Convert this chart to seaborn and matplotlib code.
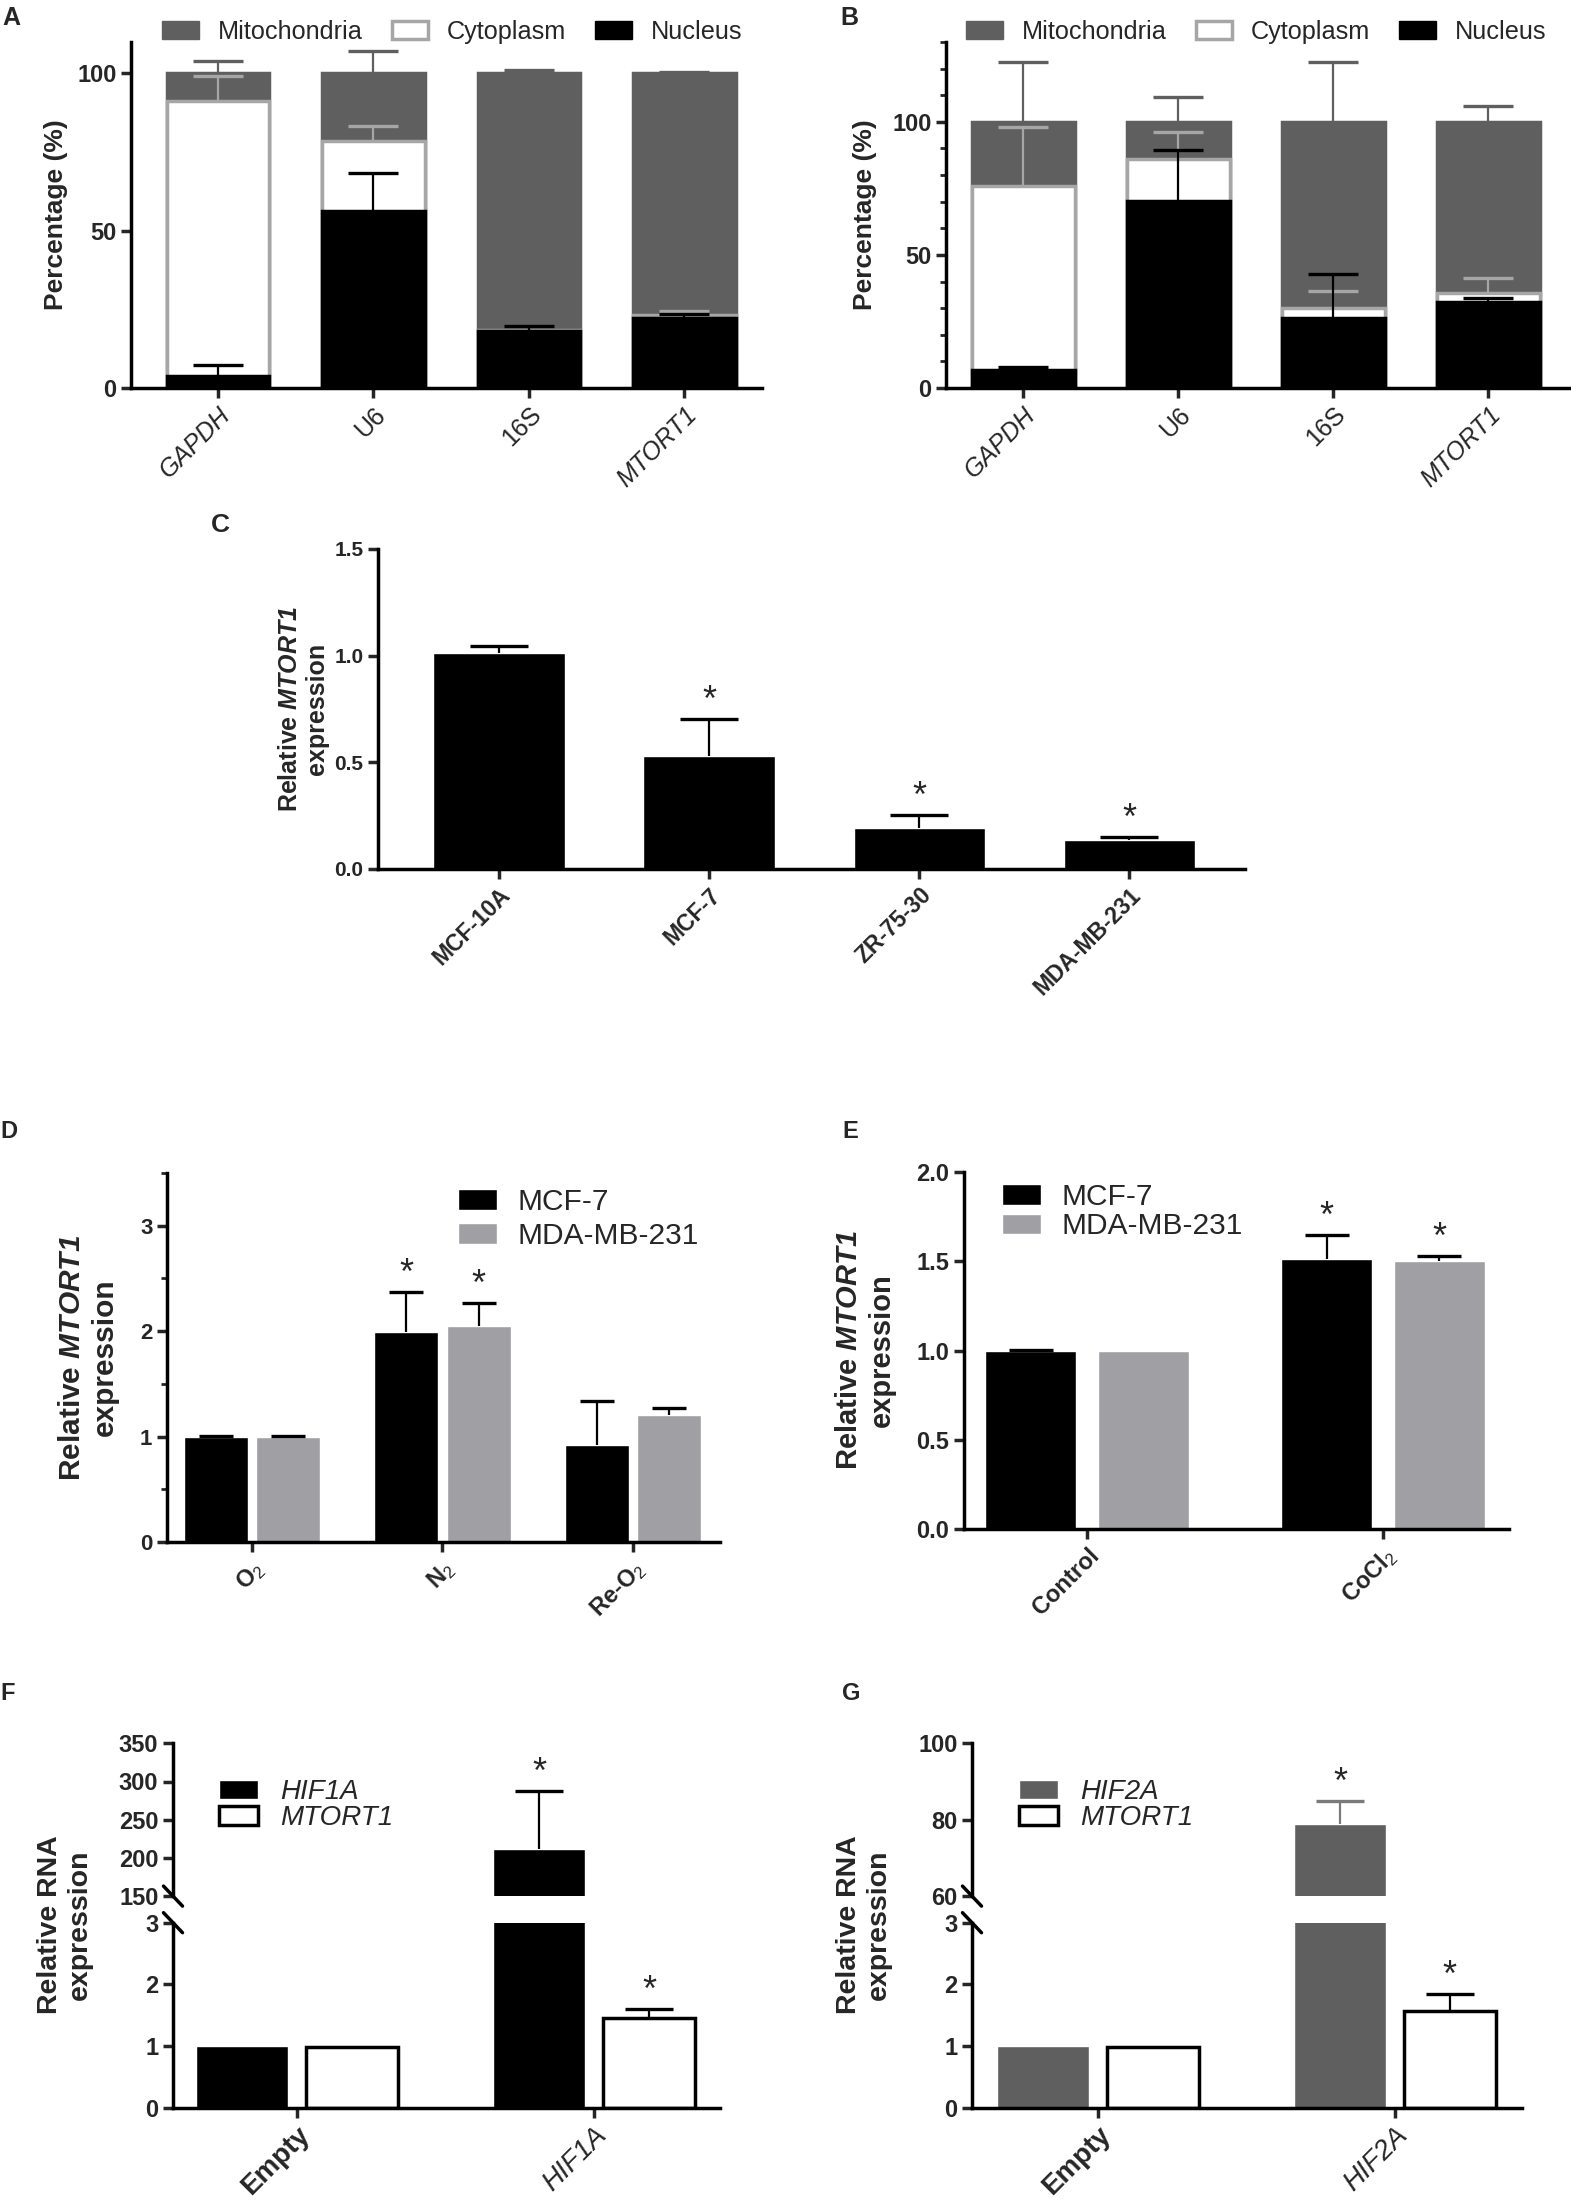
import matplotlib
matplotlib.use("Agg")
import matplotlib.pyplot as plt
import numpy as np
import pandas as pd
import seaborn as sns
from matplotlib.patches import Patch
from matplotlib.ticker import MultipleLocator

sns.set_theme(style="ticks")
plt.rcParams["font.family"] = ["Liberation Sans", "DejaVu Sans"]
plt.rcParams.update({
    "axes.linewidth": 2.5,
    "xtick.major.width": 2.5,
    "ytick.major.width": 2.5,
    "xtick.major.size": 7,
    "ytick.major.size": 7,
    "ytick.minor.width": 2.0,
    "ytick.minor.size": 4,
    "axes.edgecolor": "black",
    "mathtext.fontset": "custom",
    "mathtext.rm": "Liberation Sans",
    "mathtext.it": "Liberation Sans:italic",
    "mathtext.bf": "Liberation Sans:bold",
    "mathtext.bfit": "Liberation Sans:bold:italic",
})

MITO = "#5f5f5f"
CYTO = "#a6a6a6"
MDA = "#a0a0a4"

# ---- data ----
genes = ["GAPDH", "U6", "16S", "MTORT1"]
italic_genes = ["GAPDH", "MTORT1"]
fraction_labels = ["Mitochondria", "Cytoplasm", "Nucleus"]

# panel A: percentage in each fraction (nucleus / cytoplasm / mitochondria)
a_nucleus = [3.8, 56.3, 18.1, 22.3]
a_nucleus_err = [3.6, 11.9, 1.5, 1.3]
a_cytoplasm = [87.4, 22.1, 0.3, 0.8]
a_cytoplasm_err = [7.9, 5.0, 0.0, 1.4]
a_mito = [8.8, 21.6, 81.6, 76.9]
a_mito_err = [4.1, 7.2, 1.0, 0.6]

# panel B
b_nucleus = [6.9, 70.4, 26.3, 32.4]
b_nucleus_err = [0.9, 18.9, 16.7, 1.6]
b_cytoplasm = [69.0, 15.5, 3.9, 3.4]
b_cytoplasm_err = [22.1, 10.1, 6.4, 5.7]
b_mito = [24.1, 14.1, 69.8, 64.2]
b_mito_err = [22.3, 9.4, 22.3, 6.0]

# panel C
cell_lines = ["MCF-10A", "MCF-7", "ZR-75-30", "MDA-MB-231"]
c_expr = [1.014, 0.531, 0.191, 0.134]
c_err = [0.033, 0.171, 0.064, 0.014]
c_star = [False, True, True, True]

# panel D
lines_de = ["MCF-7", "MDA-MB-231"]
d_conditions = ["O$_2$", "N$_2$", "Re-O$_2$"]
d_mcf7 = [1.0, 1.99, 0.92]
d_mcf7_err = [0.005, 0.38, 0.42]
d_mda = [1.0, 2.05, 1.20]
d_mda_err = [0.005, 0.22, 0.07]
d_star = [False, True, False]

# panel E
e_conditions = ["Control", "CoCl$_2$"]
e_mcf7 = [1.0, 1.511]
e_mcf7_err = [0.002, 0.136]
e_mda = [1.0, 1.50]
e_mda_err = [0.0, 0.03]
e_star = [False, True]

# panel F
f_groups = ["Empty", "HIF1A"]
f_hif1a = [1.0, 211.0]
f_hif1a_err = [0.0, 76.0]
f_mtort1 = [0.98, 1.46]
f_mtort1_err = [0.0, 0.14]

# panel G
g_groups = ["Empty", "HIF2A"]
g_hif2a = [1.0, 78.8]
g_hif2a_err = [0.0, 6.0]
g_mtort1 = [0.98, 1.57]
g_mtort1_err = [0.0, 0.28]

W, H = 1571, 2202
fig = plt.figure(figsize=(W / 100, H / 100), dpi=100)


def box(left, top, right, bottom):
    # pixel box -> figure fraction rect
    return [left / W, 1 - bottom / H, (right - left) / W, (bottom - top) / H]


def up_err(ax, container, errs, color, cap, lw=1.6):
    xs, ys, es = [], [], []
    for bar, e in zip(container, errs):
        if e <= 0:
            continue
        xs.append(bar.get_x() + bar.get_width() / 2)
        ys.append(bar.get_height())
        es.append(e)
    if not xs:
        return
    eb = ax.errorbar(xs, ys, yerr=[np.zeros(len(es)), es], fmt="none", ecolor=color,
                     elinewidth=lw, capsize=cap, capthick=2.4, zorder=5)
    # only the upper cap is wanted
    for cl in eb[1]:
        if np.allclose(cl.get_ydata(), ys):
            cl.set_visible(False)


def star(ax, container, errs, flags):
    for bar, e, f in zip(container, errs, flags):
        if f:
            ax.annotate("*", (bar.get_x() + bar.get_width() / 2, bar.get_height() + e),
                        xytext=(0, 0), textcoords="offset points",
                        ha="center", va="bottom", fontsize=26)


def style_ticks(ax, ysize):
    for lbl in ax.get_yticklabels():
        lbl.set_fontweight("bold")
        lbl.set_fontsize(ysize)
    sns.despine(ax=ax)


def stacked(ax, nuc, nuc_err, cyt, cyt_err, mito, mito_err):
    nuc_top = np.array(nuc)
    cyt_top = nuc_top + np.array(cyt)
    mito_top = cyt_top + np.array(mito)
    layers = [(mito_top, MITO, MITO, mito_err, MITO),
              (cyt_top, "white", CYTO, cyt_err, CYTO),
              (nuc_top, "black", "black", nuc_err, "black")]
    for tops, fc, ec, errs, errc in layers:
        sns.barplot(x=genes, y=tops, order=genes, color=fc, saturation=1, width=0.66,
                    edgecolor=ec, linewidth=2.5, errorbar=None, ax=ax)
        up_err(ax, ax.containers[-1], errs, errc, 18)
    ax.set_xticks(range(len(genes)))
    ax.set_xticklabels(genes, rotation=45, ha="right", rotation_mode="anchor", fontsize=18)
    for lbl in ax.get_xticklabels():
        if lbl.get_text() in italic_genes:
            lbl.set_fontstyle("italic")
    ax.set_xlabel("")
    ax.set_ylabel("Percentage (%)", fontsize=19, fontweight="bold")
    ax.set_yticks([0, 50, 100])
    style_ticks(ax, 17)


frac_handles = [Patch(facecolor=MITO, edgecolor=MITO),
                Patch(facecolor="white", edgecolor=CYTO, linewidth=2.5),
                Patch(facecolor="black", edgecolor="black")]
frac_legend = dict(ncol=3, frameon=False, loc="center left", bbox_transform=fig.transFigure,
                   fontsize=18.2, handlelength=1.45, handleheight=0.7, handletextpad=0.75,
                   columnspacing=1.15, borderpad=0, borderaxespad=0)

# ---- A ----
axA = fig.add_axes(box(131, 42, 762, 388))
stacked(axA, a_nucleus, a_nucleus_err, a_cytoplasm, a_cytoplasm_err, a_mito, a_mito_err)
axA.set_ylim(0, 110)
axA.set_xlim(-0.56, 3.5)
axA.yaxis.set_label_coords(-0.100, 0.5)
axA.legend(frac_handles, fraction_labels, bbox_to_anchor=(162 / W, 1 - 32 / H), **frac_legend)

# ---- B ----
axB = fig.add_axes(box(946, 42, 1569, 388))
stacked(axB, b_nucleus, b_nucleus_err, b_cytoplasm, b_cytoplasm_err, b_mito, b_mito_err)
axB.set_ylim(0, 130)
axB.set_xlim(-0.5, 3.52)
axB.yaxis.set_minor_locator(MultipleLocator(10))
axB.yaxis.set_label_coords(-0.111, 0.5)
axB.legend(frac_handles, fraction_labels, bbox_to_anchor=(966 / W, 1 - 32 / H), **frac_legend)

# ---- C ----
axC = fig.add_axes(box(378, 549, 1245, 869))
sns.barplot(x=cell_lines, y=c_expr, order=cell_lines, color="black", saturation=1,
            width=0.626, errorbar=None, ax=axC)
c_bars = axC.containers[0]
up_err(axC, c_bars, c_err, "black", 21)
star(axC, c_bars, c_err, c_star)
axC.set_ylim(0, 1.5)
axC.set_xlim(-0.576, 3.55)
axC.set_yticks([0, 0.5, 1.0, 1.5])
axC.set_xticks(range(len(cell_lines)))
axC.set_xticklabels(cell_lines, rotation=45, ha="right", rotation_mode="anchor",
                    fontsize=16.5, fontweight="bold")
axC.set_ylabel("Relative $\\mathbfit{MTORT1}$\nexpression", fontsize=18, fontweight="bold")
axC.yaxis.set_label_coords(-0.056, 0.5)
style_ticks(axC, 15)


def grouped(ax, groups, v1, e1, v2, e2, names, colors, width, gap, cap):
    df = pd.DataFrame({
        "group": groups * 2,
        "line": [names[0]] * len(groups) + [names[1]] * len(groups),
        "value": list(v1) + list(v2),
    })
    sns.barplot(data=df, x="group", y="value", hue="line", order=groups, hue_order=names,
                palette=colors, saturation=1, width=width, gap=gap, errorbar=None,
                legend=False, ax=ax)
    up_err(ax, ax.containers[0], e1, "black", cap)
    up_err(ax, ax.containers[1], e2, "black", cap)
    ax.set_xlabel("")
    ax.set_ylabel("")
    ax.set_xticks(range(len(groups)))


# ---- D ----
axD = fig.add_axes(box(167, 1173, 720, 1542))
grouped(axD, d_conditions, d_mcf7, d_mcf7_err, d_mda, d_mda_err, lines_de,
        ["black", MDA], 0.76, 0.116, 12)
star(axD, axD.containers[0], d_mcf7_err, d_star)
star(axD, axD.containers[1], d_mda_err, d_star)
axD.set_ylim(0, 3.5)
axD.set_xlim(-0.446, 2.457)
axD.set_yticks([0, 1, 2, 3])
axD.yaxis.set_minor_locator(MultipleLocator(0.5))
axD.set_xticklabels(d_conditions, rotation=45, ha="right", rotation_mode="anchor",
                    fontsize=17, fontweight="bold")
axD.set_ylabel("Relative $\\mathbfit{MTORT1}$\nexpression", fontsize=21.5, fontweight="bold")
axD.yaxis.set_label_coords(-0.087, 0.5)
style_ticks(axD, 16)
de_handles = [Patch(facecolor="black"), Patch(facecolor=MDA)]
axD.legend(de_handles, lines_de, frameon=False, loc="upper left",
           bbox_to_anchor=(458 / W, 1 - 1188 / H), bbox_transform=fig.transFigure,
           fontsize=21.5, handlelength=1.3, handleheight=0.68, handletextpad=0.68,
           labelspacing=0.2, borderpad=0, borderaxespad=0)

# ---- E ----
axE = fig.add_axes(box(964, 1172, 1509, 1529))
grouped(axE, e_conditions, e_mcf7, e_mcf7_err, e_mda, e_mda_err, lines_de,
        ["black", MDA], 0.76, 0.19, 16)
star(axE, axE.containers[0], e_mcf7_err, e_star)
star(axE, axE.containers[1], e_mda_err, e_star)
axE.set_ylim(0, 2.0)
axE.set_xlim(-0.416, 1.426)
axE.set_yticks([0, 0.5, 1.0, 1.5, 2.0])
axE.set_xticklabels(e_conditions, rotation=45, ha="right", rotation_mode="anchor",
                    fontsize=17, fontweight="bold")
axE.set_ylabel("Relative $\\mathbfit{MTORT1}$\nexpression", fontsize=21, fontweight="bold")
axE.yaxis.set_label_coords(-0.125, 0.5)
style_ticks(axE, 17)
axE.legend(de_handles, lines_de, frameon=False, loc="upper left",
           bbox_to_anchor=(1002 / W, 1 - 1183 / H), bbox_transform=fig.transFigure,
           fontsize=21.5, handlelength=1.3, handleheight=0.68, handletextpad=0.68,
           labelspacing=0.05, borderpad=0, borderaxespad=0)


# ---- F / G (broken axis) ----
def broken(left, right, groups, v1, e1, v2, e2, c1, err1, names, upper_lim, upper_ticks,
           xlim, leg_x, ylab_x):
    low = fig.add_axes(box(left, 1922.7, right, 2107.6))
    up = fig.add_axes(box(left, 1743.3, right, 1896.1))
    for ax in (low, up):
        grouped(ax, groups, v1, [0] * len(e1), v2, [0] * len(e2), names,
                [c1, "white"], 0.74, 0.16, 17)
        for bar in ax.containers[1]:
            bar.set_edgecolor("black")
            bar.set_linewidth(2.5)
        ax.set_xlim(*xlim)
    up_bars, low_bars = up.containers[0], low.containers[1]
    up_err(up, up_bars, e1, err1, 17)
    star(up, up_bars, e1, [False, True])
    up_err(low, low_bars, e2, "black", 17)
    star(low, low_bars, e2, [False, True])
    low.set_ylim(0, 3)
    low.set_yticks([0, 1, 2, 3])
    up.set_ylim(*upper_lim)
    up.set_yticks(upper_ticks)
    low.set_xticklabels(groups, rotation=45, ha="right", rotation_mode="anchor", fontsize=20)
    for lbl in low.get_xticklabels():
        if lbl.get_text() == "Empty":
            lbl.set_fontweight("bold")
        else:
            lbl.set_fontstyle("italic")
    up.tick_params(axis="x", bottom=False, labelbottom=False)
    style_ticks(low, 17)
    style_ticks(up, 17)
    up.spines["bottom"].set_visible(False)
    # break marks on the y axis
    for ax, yy in ((up, 0.0), (low, 1.0)):
        bb = ax.get_window_extent()
        dx, dy = 9.5 / bb.width, 10 / bb.height
        ax.plot([-dx, dx], [yy + dy, yy - dy], transform=ax.transAxes, color="black",
                lw=2.5, clip_on=False)
    up.legend([Patch(facecolor=c1), Patch(facecolor="white", edgecolor="black", linewidth=2.5)],
              names, frameon=False, loc="upper left",
              bbox_to_anchor=(leg_x / W, 1 - 1779 / H), bbox_transform=fig.transFigure,
              prop={"style": "italic", "size": 20}, handlelength=1.4, handleheight=0.7,
              handletextpad=0.8, labelspacing=0.0, borderpad=0, borderaxespad=0)
    fig.text(ylab_x / W, 1 - 1925 / H, "Relative RNA\nexpression", rotation=90,
             ha="center", va="center", fontsize=20.5, fontweight="bold",
             multialignment="center")
    return low, up


broken(173, 720, f_groups, f_hif1a, f_hif1a_err, f_mtort1, f_mtort1_err, "black", "black",
       ["HIF1A", "MTORT1"], (150, 350), [150, 200, 250, 300, 350], (-0.417, 1.424), 219, 65)
broken(972, 1522, g_groups, g_hif2a, g_hif2a_err, g_mtort1, g_mtort1_err, MITO, "#7a7a7a",
       ["HIF2A", "MTORT1"], (60, 100), [60, 80, 100], (-0.424, 1.428), 1019, 864)

# panel letters
for letter, (px, py), size in [("A", (2, 6), 18), ("B", (840, 6), 18), ("C", (211, 513), 19),
                               ("D", (0, 1120), 17), ("E", (842, 1120), 17),
                               ("F", (0, 1682), 17), ("G", (842, 1682), 17)]:
    fig.text(px / W, 1 - py / H, letter, fontsize=size, fontweight="bold", va="top", ha="left")

fig.savefig("out.png", dpi=100)
